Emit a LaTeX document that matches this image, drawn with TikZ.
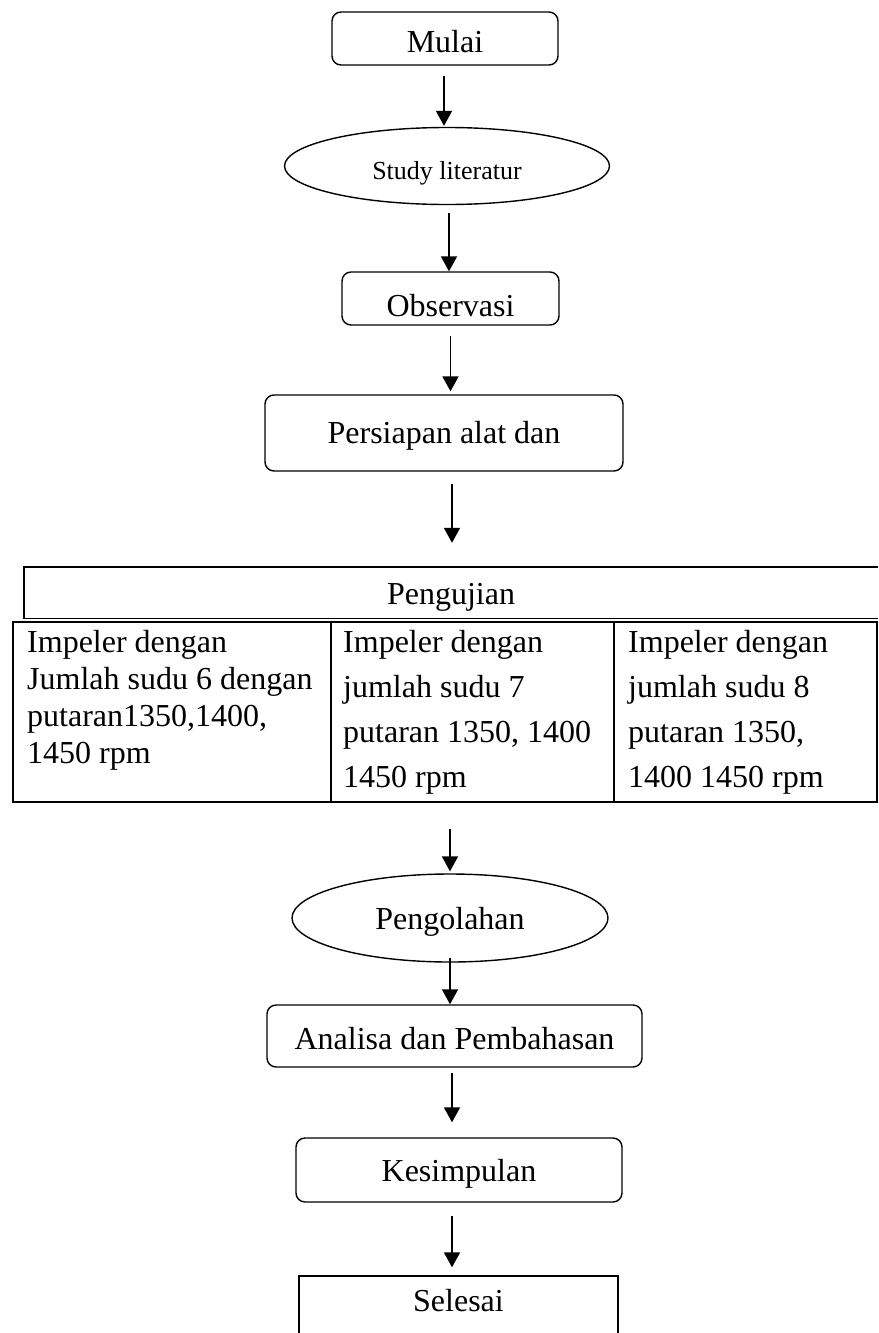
\documentclass[tikz,border=0pt]{standalone}
\usepackage{fontspec}
\setmainfont{Liberation Serif}
\usepackage{tikz}
\usetikzlibrary{shapes.geometric, arrows.meta, positioning}

\begin{document}
\begin{tikzpicture}[x=1pt, y=-1pt,
    block/.style={rectangle, draw, line width=1.4pt, rounded corners=9pt, inner sep=0pt, text height=26pt, text depth=0pt, font=\fontsize{32}{38}\selectfont},
    oval/.style={ellipse, draw, line width=1.4pt, inner sep=0pt, text depth=0pt, font=\fontsize{32}{38}\selectfont},
    cell/.style={rectangle, draw, line width=1.8pt, inner sep=0pt, anchor=north west, minimum height=180pt},
    celltext/.style={anchor=north west, align=left, inner sep=0pt},
    arrow/.style={line width=1.9pt, -{Triangle[width=16pt,length=15pt]}}
]
\useasboundingbox (0,0) rectangle (878,1333);

% Upper path
\node[block, minimum width=226pt, minimum height=53pt, text height=28pt] (mulai) at (445,38.5) {Mulai};
\node[oval, minimum width=325pt, minimum height=77pt, text height=26pt, font=\fontsize{26}{30}\selectfont] (study) at (447,166) {Study literatur};
\node[block, minimum width=217pt, minimum height=53pt, text height=35pt] (obs) at (450.5,298.5) {Observasi};
\node[block, minimum width=358pt, minimum height=76pt, text height=20pt] (siap) at (444,433) {Persiapan alat dan};

% Testing table
\node[rectangle, inner sep=0pt, text height=24pt, text depth=0pt, minimum width=854pt, minimum height=51pt, font=\fontsize{32}{38}\selectfont] (uji) at (451,592.5) {Pengujian};
\draw[line width=1.4pt] (uji.north east) -- (uji.north west) -- (uji.south west) -- (uji.south east);
\node[cell, minimum width=318pt] (cellA) at (12,621) {};
\node[cell, minimum width=283pt] (cellB) at (330,621) {};
\node[cell, minimum width=263pt] (cellC) at (613,621) {};
\node[celltext, font=\fontsize{32}{37}\selectfont] (textA) at ([shift={(15,9)}]cellA.north west) {Impeler dengan\\Jumlah sudu 6 dengan\\putaran1350,1400,\\1450 rpm};
\node[celltext, font=\fontsize{32}{45}\selectfont] (textB) at ([shift={(13,9)}]cellB.north west) {Impeler dengan\\jumlah sudu 7\\putaran 1350, 1400\\1450 rpm};
\node[celltext, font=\fontsize{32}{45}\selectfont] (textC) at ([shift={(15,9)}]cellC.north west) {Impeler dengan\\jumlah sudu 8\\putaran 1350,\\1400 1450 rpm};

% Lower path
\node[oval, minimum width=316pt, minimum height=88pt, text height=22pt] (olah) at (450,918) {Pengolahan};
\node[block, minimum width=375pt, minimum height=62pt] (analisa) at (454.5,1036) {Analisa dan Pembahasan};
\node[block, minimum width=326pt, minimum height=64pt, text height=23pt] (simpul) at (459,1170) {Kesimpulan};
\node[rectangle, draw, line width=1.4pt, inner sep=0pt, minimum width=319pt, minimum height=68pt, text height=22pt, text depth=20pt, font=\fontsize{32}{38}\selectfont] (selesai) at (458.5,1310) {Selesai};

% Connections
\draw[arrow, shorten <=10pt, shorten >=1pt] ([xshift=-1pt]mulai.south) -- ([xshift=-1pt]mulai.south |- study.north);
\draw[arrow, shorten <=8pt] ([xshift=2pt]study.south) -- ([xshift=2pt]study.south |- obs.north);
\draw[arrow, shorten <=10pt, shorten >=3pt] (obs.south) -- (obs.south |- siap.north);
\draw[arrow, shorten <=12pt, shorten >=24pt] ([xshift=8pt]siap.south) -- ([xshift=8pt]siap.south |- uji.north);
\draw[arrow, shorten <=26pt, shorten >=2pt] (olah.north |- cellB.south) -- (olah.north);
\draw[arrow, shorten <=-5pt] (olah.south) -- (olah.south |- analisa.north);
\draw[arrow, shorten <=5pt, shorten >=15pt] ([xshift=-2.5pt]analisa.south) -- ([xshift=-2.5pt]analisa.south |- simpul.north);
\draw[arrow, shorten <=13pt, shorten >=8pt] ([xshift=-7pt]simpul.south) -- ([xshift=-7pt]simpul.south |- selesai.north);

\end{tikzpicture}
\end{document}
